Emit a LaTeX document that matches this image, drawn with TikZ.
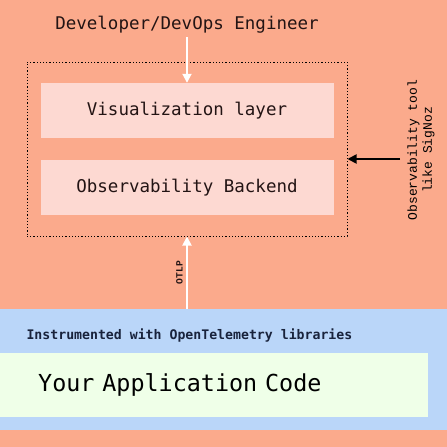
\documentclass[tikz,border=0pt]{standalone}
\usepackage{fontspec}
\setmonofont{DejaVu Sans Mono}
\newfontfamily\sidemono{Liberation Mono}
\usepackage{tikz}
\usetikzlibrary{calc,positioning,arrows.meta}
\definecolor{salmon}{RGB}{251,170,140}
\definecolor{layerpink}{RGB}{253,217,210}
\definecolor{instrblue}{RGB}{186,214,249}
\definecolor{appgreen}{RGB}{239,255,232}
\definecolor{navy}{RGB}{25,35,60}
\definecolor{ink}{RGB}{35,20,20}

\begin{document}
\begin{tikzpicture}[x = 1pt, y = 1pt,
	layer/.style = {fill=layerpink, minimum width=293, minimum height=55, inner sep=0, text=ink,
		font=\ttfamily\fontsize{17.5}{20}\selectfont},
	whitearrow/.style = {-{Triangle[length=9pt,width=9pt]}, line width=1.8, white}]
	\useasboundingbox (0,0) rectangle (447,-447);
	\fill [salmon] (0,0) rectangle (447,-447);

	\node(dev) at (187,-25) [text=ink, font=\ttfamily\fontsize{17.5}{20}\selectfont] {Developer/DevOps Engineer};
	\node(frame) at (187,-149) [draw, line width = 1.0, dash pattern=on 1.2pt off 2pt, minimum width=320, minimum height=174] {};
	\node(vis) at (187,-110.5) [layer] {Visualization layer};
	\node(obs) at (187,-187.5) [layer] {Observability Backend};

	\coordinate(tool) at (400,-159);
	\node(tooltext) at (421,-150) [rotate=90, align=center, font=\sidemono\fontsize{13}{15}\selectfont] {Observability tool\\like SigNoz};

	\node(band) at (0,-309) [anchor=north west, fill=instrblue, minimum width=447, minimum height=121, inner sep=0] {};
	\node(instr) at (23,-336) [anchor=west, text=navy, font=\ttfamily\bfseries\fontsize{13.2}{15}\selectfont] {Instrumented with OpenTelemetry libraries};
	\node(app) at (0,-385) [anchor=west, fill=appgreen, minimum height=64, text width=352, inner xsep=38, inner ysep=0, align=left,
		font=\ttfamily\fontsize{23.4}{26}\selectfont] {Your Application Code};

	\path [whitearrow]
	(dev) edge (vis);
	\draw [whitearrow] (frame.south |- band.north) -- node [pos=.5, rotate=90, anchor=south, text=ink,
		font=\sidemono\bfseries\fontsize{9.6}{11}\selectfont] {OTLP} (frame.south);
	\draw [-{Triangle[length=9pt,width=9pt]}, line width=1.8, black] (tool) -- (tool -| frame.east);
\end{tikzpicture}
\end{document}
